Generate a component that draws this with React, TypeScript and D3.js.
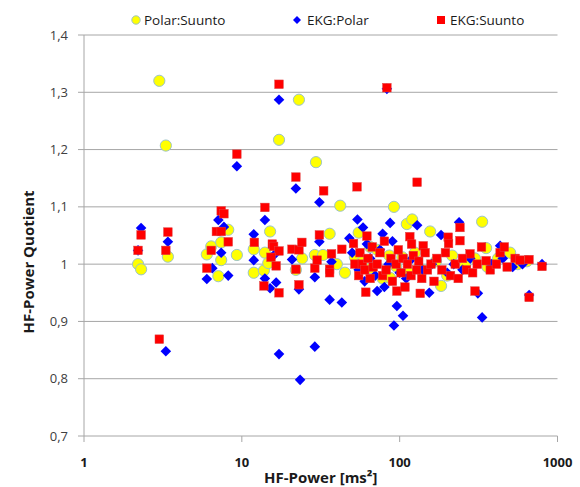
import React from "react";
import * as d3 from "d3";

// [HF-Power (ms²), HF-Power quotient]
const polarSuunto: [number, number][] = [
  [2.2, 1.0], [2.3, 0.991], [3.0, 1.32], [3.3, 1.207], [3.4, 1.013],
  [6.0, 1.017], [6.4, 1.031], [7.1, 0.979], [7.4, 1.038], [7.4, 1.007], [8.2, 1.06], [9.3, 1.016],
  [11.9, 1.026], [11.9, 0.985], [13.8, 0.989], [14.0, 1.02], [15.1, 1.057], [14.7, 1.002],
  [17.2, 1.217], [23.0, 1.287], [29.5, 1.178], [24.1, 1.01], [22, 0.99], [29, 1.016], [32.7, 1.016],
  [36, 1.053], [42, 1.102], [55, 1.055], [92, 1.1], [111, 1.07], [120, 1.078], [156, 1.057],
  [183, 0.962], [333, 1.074], [353, 1.028], [501, 1.02], [65, 1.03], [45, 0.985], [40, 1.0],
  [52, 1.012], [58, 1.004], [66, 0.993], [72, 1.025], [78, 0.975], [86, 1.015], [95, 0.996],
  [104, 1.012], [115, 0.985], [125, 1.02], [140, 0.99], [170, 1.005], [200, 0.98], [215, 1.015],
  [260, 0.998], [300, 1.01], [360, 0.995], [420, 1.01], [560, 1.0], [640, 1.005], [87, 0.976],
];

const ekgPolar: [number, number][] = [
  [2.3, 1.063], [2.2, 1.024], [3.4, 1.039], [3.3, 0.848],
  [6.0, 0.974], [6.5, 0.993], [7.1, 1.077], [7.7, 1.065], [7.4, 1.02], [8.2, 0.98], [9.3, 1.171],
  [11.9, 1.052], [11.9, 1.007], [14.0, 1.077], [14.0, 0.975], [15.1, 0.958], [16.5, 0.968], [16, 1.016],
  [17.2, 1.287], [17.2, 0.843], [23.4, 0.798], [20.8, 1.008], [22, 1.132], [23, 0.956], [29, 0.856],
  [29, 0.977], [31, 1.108], [31, 1.039], [37, 1.004], [36, 0.938], [43, 0.933],
  [54, 1.078], [58.6, 1.064], [78, 1.053], [87, 1.072], [72, 0.953], [92, 0.893], [96, 0.927],
  [105, 0.91], [129, 1.068], [183, 1.051], [238, 1.073], [333, 0.907], [433, 1.032], [798, 1.0],
  [661, 0.946], [154, 0.95], [313, 0.949], [83, 1.306],
  [50, 1.02], [55, 0.99], [60, 0.97], [65, 1.01], [70, 0.98], [80, 0.96], [85, 1.0], [100, 0.985],
  [110, 0.975], [120, 1.01], [140, 0.99], [160, 1.0], [200, 0.985], [220, 1.0], [250, 0.99],
  [280, 1.01], [380, 1.0], [450, 1.01], [520, 0.995], [600, 1.0], [48, 1.045], [62, 1.035],
  [75, 1.025], [90, 1.04],
];

const ekgSuunto: [number, number][] = [
  [2.2, 1.024], [2.3, 1.051], [3.0, 0.869], [3.4, 1.056], [3.3, 1.024],
  [6.0, 0.993], [6.4, 1.024], [7.4, 1.093], [7.7, 1.088], [6.9, 1.057], [7.4, 1.057], [8.2, 1.039], [9.3, 1.192],
  [14.0, 1.099], [12, 1.038], [15.6, 1.035], [15.9, 1.031], [17.2, 1.023], [15.3, 1.012], [16.5, 0.997],
  [13.8, 0.962], [17.2, 0.95], [17.2, 1.314], [22, 1.152], [33, 1.128], [53.7, 1.135], [129, 1.143], [83, 1.308],
  [20.8, 1.026], [23, 1.025], [24, 1.038], [22, 0.991], [23, 0.964], [29, 0.993], [30, 1.007], [31, 1.051],
  [37, 1.018], [36, 0.991], [36, 0.985], [43, 1.026],
  [61, 0.951], [62, 1.049], [51, 1.036], [96, 0.953], [135, 0.949], [116, 1.048], [119, 1.035], [141, 1.032],
  [203, 1.047], [204, 1.036], [241, 1.041], [241, 1.064], [279, 1.018], [353, 1.006], [433, 1.02],
  [539, 1.01], [579, 1.007], [660, 1.008], [798, 0.996], [661, 0.942], [300, 0.953],
  [52, 1.0], [55, 0.98], [56, 1.02], [58, 1.0], [60, 0.99], [63, 1.01], [65, 0.975], [67, 1.03],
  [68, 0.995], [72, 1.0], [75, 1.02], [78, 0.98], [80, 1.04], [82, 0.99], [88, 1.01], [90, 0.97],
  [95, 1.0], [98, 1.025], [102, 0.985], [105, 1.01], [108, 0.96], [112, 1.0], [118, 0.98], [122, 1.015],
  [128, 0.99], [132, 1.005], [138, 0.975], [145, 1.02], [150, 0.99], [158, 1.0], [165, 0.97], [172, 1.01],
  [185, 0.99], [195, 1.02], [210, 0.98], [225, 1.0], [235, 0.975], [250, 1.01], [265, 0.99], [290, 0.985],
  [310, 1.0], [330, 1.03], [375, 0.99], [410, 1.0], [460, 1.03], [480, 0.995],
];

const xTicks = [1, 10, 100, 1000];
const yTicks = [0.7, 0.8, 0.9, 1.0, 1.1, 1.2, 1.3, 1.4];
const seriesNames = ["Polar:Suunto", "EKG:Polar", "EKG:Suunto"];

const W = 580;
const H = 487;
const FONT = "'Open Sans', 'Noto Sans', sans-serif";

const x = d3.scaleLog().domain([1, 1000]).range([84, 557.5]);
const y = d3.scaleLinear().domain([0.7, 1.4]).range([436, 35]);

const fmtY = (v: number) => {
  const s = d3.format(".1f")(v);
  return s === "1.0" ? "1" : s.replace(".", ",");
};

const diamondPath = (cx: number, cy: number, r: number) =>
  `M${cx},${cy - r}L${cx + r},${cy}L${cx},${cy + r}L${cx - r},${cy}Z`;

function Circle({ cx, cy }: { cx: number; cy: number }) {
  return <circle cx={cx} cy={cy} r={5.6} fill="#FFFF00" stroke="#9cc3c8" strokeWidth={1} />;
}
function Diamond({ cx, cy }: { cx: number; cy: number }) {
  return <path d={diamondPath(cx, cy, 5.3)} fill="#0000FF" />;
}
function Square({ cx, cy }: { cx: number; cy: number }) {
  return <rect x={cx - 4.3} y={cy - 4.3} width={8.6} height={8.6} fill="#FF0000" stroke="#e04040" strokeWidth={0.5} />;
}

export default function App() {
  const [x0, x1] = x.range();
  return (
    <svg
      width={W}
      height={H}
      style={{ position: "absolute", left: 0, top: 0, background: "#ffffff" }}
      fontFamily={FONT}
    >
      {yTicks.map((t) => (
        <line key={t} x1={x0 - 6} x2={x1} y1={y(t)} y2={y(t)} stroke="#a6a6a6" strokeWidth={1} />
      ))}
      <line x1={x0} x2={x0} y1={y(1.4)} y2={y(0.7)} stroke="#a6a6a6" strokeWidth={1} />
      {xTicks.map((t) => (
        <line key={t} x1={x(t)} x2={x(t)} y1={y(0.7)} y2={y(0.7) + 6} stroke="#a6a6a6" strokeWidth={1} />
      ))}
      {yTicks.map((t) => (
        <text key={t} x={68} y={y(t) + 4.5} textAnchor="end" fontSize={13} fill="#404040">
          {fmtY(t)}
        </text>
      ))}
      {xTicks.map((t) => (
        <text key={t} x={x(t)} y={467} textAnchor="middle" fontSize={13} fontWeight="bold" fill="#1a1a1a">
          {t}
        </text>
      ))}
      <text x={(x0 + x1) / 2} y={483} textAnchor="middle" fontSize={15} fontWeight="bold" fill="#1a1a1a">
        HF-Power [ms²]
      </text>
      <text
        transform={`translate(34,262) rotate(-90)`}
        textAnchor="middle"
        fontSize={15}
        fontWeight="bold"
        fill="#1a1a1a"
      >
        HF-Power Quotient
      </text>

      <g>
        {polarSuunto.map(([a, b], i) => (
          <Circle key={i} cx={x(a)} cy={y(b)} />
        ))}
      </g>
      <g>
        {ekgPolar.map(([a, b], i) => (
          <Diamond key={i} cx={x(a)} cy={y(b)} />
        ))}
      </g>
      <g>
        {ekgSuunto.map(([a, b], i) => (
          <Square key={i} cx={x(a)} cy={y(b)} />
        ))}
      </g>

      <g fontSize={13.5} fill="#1a1a1a">
        <circle cx={136} cy={20} r={4.2} fill="#FFFF00" stroke="#9cc3c8" strokeWidth={1} />
        <text x={144} y={24.5}>{seriesNames[0]}</text>
        <path d={diamondPath(297, 20, 4)} fill="#0000FF" />
        <text x={307} y={24.5}>{seriesNames[1]}</text>
        <rect x={437} y={16} width={8} height={8} fill="#FF0000" />
        <text x={450} y={24.5}>{seriesNames[2]}</text>
      </g>
    </svg>
  );
}
